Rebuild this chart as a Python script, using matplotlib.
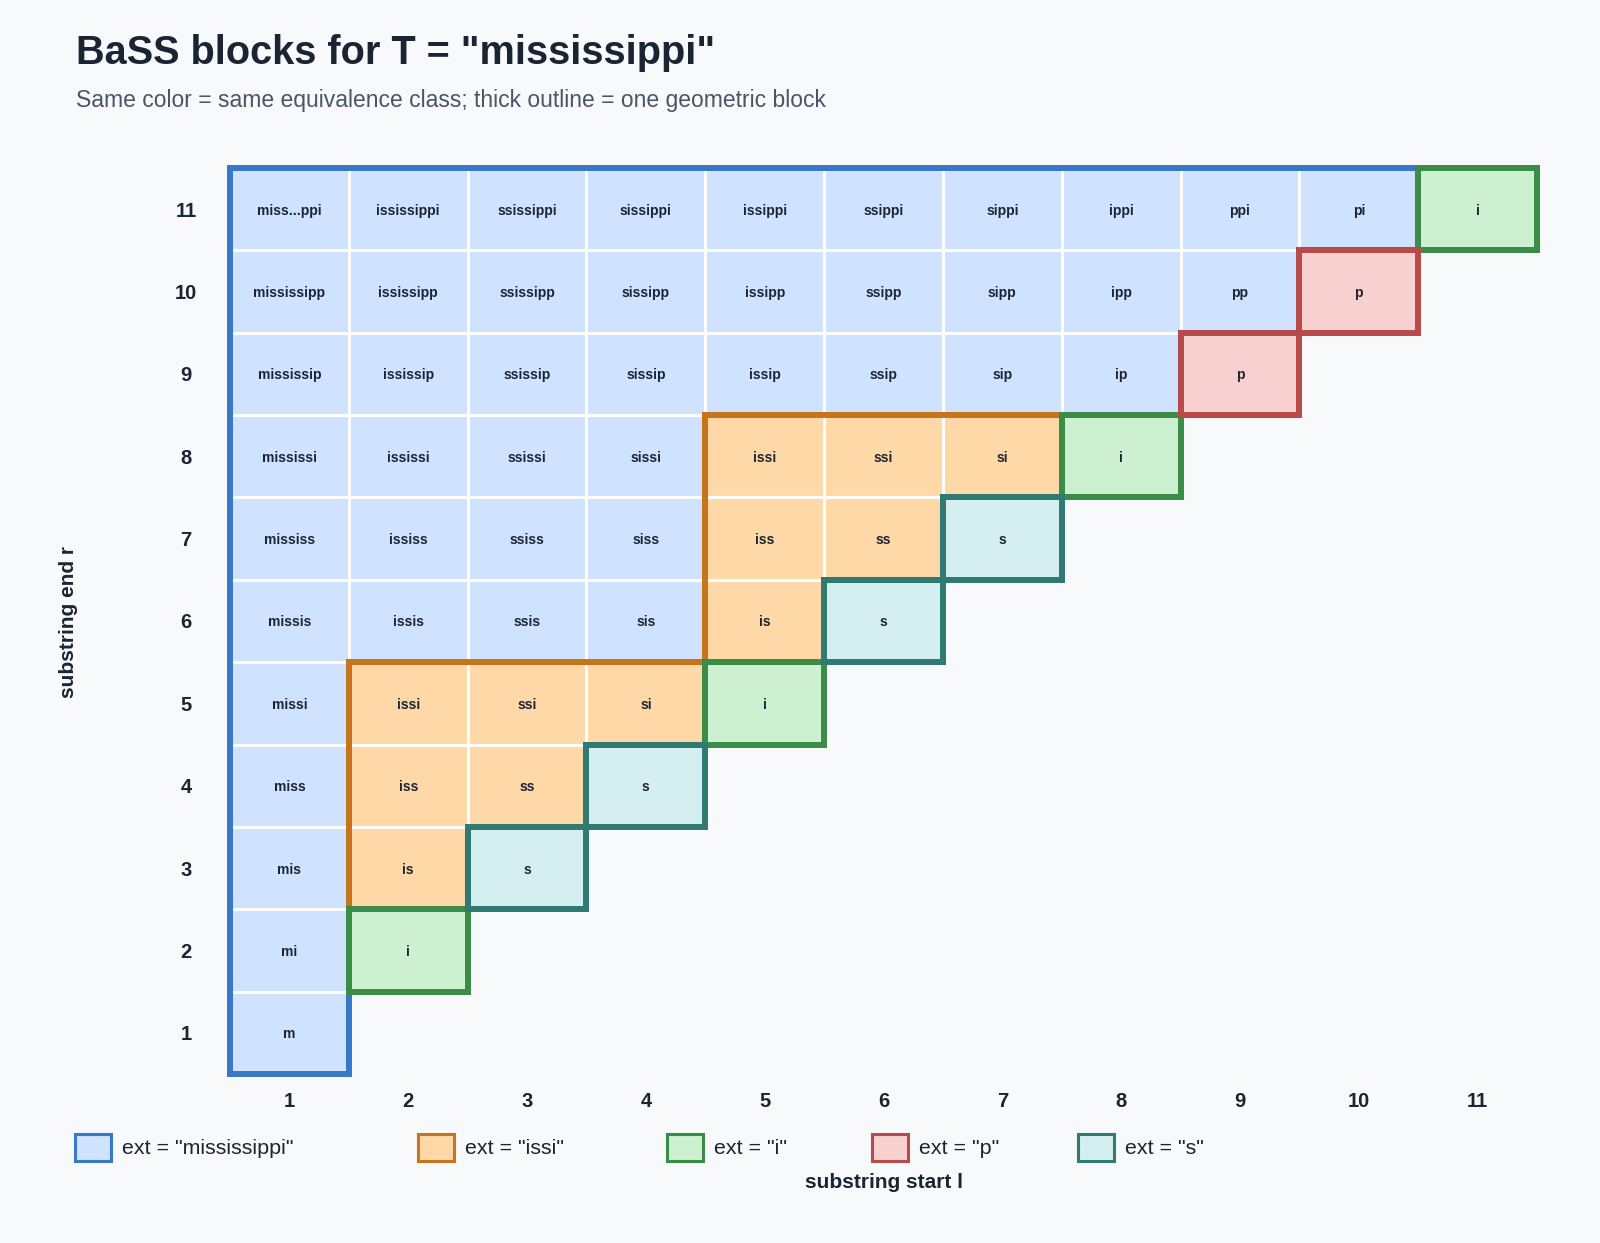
import matplotlib
matplotlib.use("Agg")
import matplotlib.pyplot as plt
from matplotlib.patches import Rectangle
from matplotlib.collections import LineCollection

plt.rcParams['font.family'] = ['Liberation Sans', 'DejaVu Sans']

T = "mississippi"

# equivalence classes (by extension) and their colours
classes = ['mississippi', 'issi', 'i', 'p', 's']
fills = ['#cfe2ff', '#ffd8a8', '#cdf0d0', '#f8d0d0', '#d5eef0']
edges = ['#3878c8', '#c8741c', '#3a8c48', '#b84a4a', '#2f7a72']

# class index of each cell, one string per end r = 1..11, char l-1 = start l
cls_rows = [
    "0",
    "02",
    "014",
    "0114",
    "01112",
    "000014",
    "0000114",
    "00001112",
    "000000003",
    "0000000003",
    "00000000002",
]

ticks = list(range(1, 12))

BG = '#f8f9fb'
DARK = '#1b2433'
W, H = 1600, 1243


def cls_of(l, r):
    if r < 1 or r > len(cls_rows) or l < 1 or l > len(cls_rows[r - 1]):
        return -1
    return int(cls_rows[r - 1][l - 1])


def cell_label(l, r):
    s = T[l - 1:r]
    if len(s) > 10:
        s = s[:4] + '...' + s[-3:]
    return s


fig = plt.figure(figsize=(W / 100, H / 100), dpi=100, facecolor=BG)
ax = fig.add_axes([230 / W, 1 - 1074 / H, 1307 / W, (1074 - 168) / H])
ax.set_facecolor(BG)

# cells
for r, row in enumerate(cls_rows, start=1):
    for l, c in enumerate(row, start=1):
        k = int(c)
        ax.add_patch(Rectangle((l - 0.5, r - 0.5), 1, 1, facecolor=fills[k],
                               edgecolor='white', linewidth=2.2, zorder=1))
        ax.text(l, r, cell_label(l, r), ha='center', va='center_baseline', fontsize=10,
                fontweight='bold', color=DARK, zorder=10)

# block outlines: edges between a cell and a neighbour of another class
for k in range(len(classes)):
    segs = []
    for r, row in enumerate(cls_rows, start=1):
        for l, c in enumerate(row, start=1):
            if int(c) != k:
                continue
            if cls_of(l - 1, r) != k:
                segs.append([(l - 0.5, r - 0.5), (l - 0.5, r + 0.5)])
            if cls_of(l + 1, r) != k:
                segs.append([(l + 0.5, r - 0.5), (l + 0.5, r + 0.5)])
            if cls_of(l, r - 1) != k:
                segs.append([(l - 0.5, r - 0.5), (l + 0.5, r - 0.5)])
            if cls_of(l, r + 1) != k:
                segs.append([(l - 0.5, r + 0.5), (l + 0.5, r + 0.5)])
    lc = LineCollection(segs, colors=edges[k], linewidths=4.3,
                        capstyle='projecting', zorder=3 + k)
    lc.set_clip_on(False)
    ax.add_collection(lc)

ax.set_xlim(0.5, 11.5)
ax.set_ylim(0.5, 11.5)
ax.set_xticks(ticks)
ax.set_yticks(ticks)
ax.set_xticklabels([str(t) for t in ticks], fontsize=14.5, fontweight='bold', color=DARK)
ax.set_yticklabels([str(t) for t in ticks], fontsize=14.5, fontweight='bold', color=DARK)
ax.tick_params(axis='x', length=0, pad=20)
ax.tick_params(axis='y', length=0, pad=31.7)
for t in ax.get_xticklabels():
    t.set_va('center')
for t in ax.get_yticklabels():
    t.set_ha('center')
for sp in ax.spines.values():
    sp.set_visible(False)

# titles and axis labels
fig.text(76 / W, 1 - 64 / H, 'BaSS blocks for T = "mississippi"', fontsize=28.6,
         fontweight='bold', color=DARK, va='baseline')
fig.text(76 / W, 1 - 107 / H,
         'Same color = same equivalence class; thick outline = one geometric block',
         fontsize=16.5, color='#4a5568', va='baseline')
fig.text(884 / W, 1 - 1183 / H, 'substring start l', fontsize=15, fontweight='bold',
         color=DARK, ha='center', va='center')
fig.text(68 / W, 1 - 622 / H, 'substring end r', fontsize=15, fontweight='bold',
         color=DARK, ha='center', va='center', rotation=90)

# legend
legend_x = [75, 418, 667, 872, 1078]
for i, name in enumerate(classes):
    x0 = legend_x[i]
    fig.patches.append(Rectangle((x0 / W, 1 - 1161 / H), 36 / W, 27 / H,
                                 transform=fig.transFigure, facecolor=fills[i],
                                 edgecolor=edges[i], linewidth=2.2))
    fig.text((x0 + 47) / W, 1 - 1149 / H, f'ext = "{name}"', fontsize=15.4,
             color=DARK, va='center')

fig.savefig('out.png', dpi=100, facecolor=BG)
